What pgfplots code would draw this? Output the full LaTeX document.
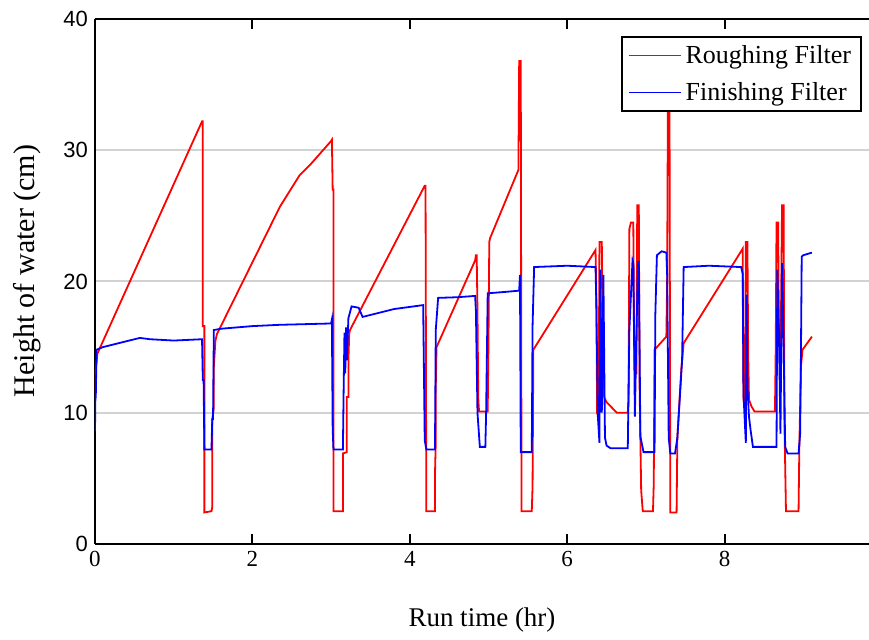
\documentclass[border=0pt]{standalone}
\usepackage{fontspec}
\setmainfont{Liberation Serif}
\setsansfont{Liberation Sans}
\usepackage{pgfplots}
\pgfplotsset{compat=1.18}
\begin{document}
\begin{tikzpicture}
\useasboundingbox (-47.5pt,-48pt) rectangle (387pt,272pt);
\begin{axis}[
  scale only axis,
  width=387pt, height=262.5pt,
  xmin=0, xmax=9.835, ymin=0, ymax=40,
  axis x line*=box, axis y line*=left,
  axis line style={line width=1pt, black},
  xtick={0,2,4,6,8}, ytick={0,10,20,30,40},
  xtick pos=both, ytick pos=left,
  tick align=inside,
  major tick length=5pt,
  xtick style={line width=1pt, black},
  ytick style={draw=none},
  ymajorgrids,
  grid style={line width=1pt, gray!35},
  /pgf/number format/assume math mode=true,
  xticklabel style={font=\fontsize{11.5}{13}\selectfont},
  yticklabel style={font=\sffamily\fontsize{11}{13}\selectfont},
  xlabel={Run time (hr)},
  ylabel={Height of water (cm)},
  xlabel style={font=\fontsize{13.5}{16}\selectfont, at={(axis description cs:0.5,-0.145)}, anchor=center},
  ylabel style={font=\fontsize{15}{18}\selectfont, at={(axis description cs:-0.088,0.52)}, anchor=center},
  legend style={at={(1,1)}, anchor=north east, xshift=-3.5pt, yshift=-8.5pt,
    draw=black, line width=1pt, fill=white, font=\fontsize{13}{15}\selectfont,
    row sep=4pt, inner xsep=3pt, inner ysep=2pt},
  legend cell align=left,
  legend image code/.code={\draw[#1, line width=0.9pt] (0pt,0pt) -- (26pt,0pt);},
]
\addplot[red, line width=0.9pt] coordinates {
(0,11.5) (0.01,13.2) (0.03,14.5) (1.36,32.2) (1.37,32.2) (1.37,16.6) (1.39,16.6) (1.39,2.4) (1.48,2.5) (1.49,2.8) (1.49,9.5) (1.51,10.4) (1.51,13.5) (1.53,15.5) (1.55,16.0)
(2.35,25.7) (2.6,28.1) (2.75,29.0) (3.0,30.7) (3.01,30.8)
(3.02,27.0) (3.03,27.0) (3.03,2.5) (3.15,2.5) (3.15,6.9) (3.2,7) (3.2,11.2) (3.22,11.2) (3.22,14) (3.23,16) (3.24,16.3)
(4.19,27.3) (4.20,27.3) (4.21,2.5) (4.32,2.5) (4.32,5.3) (4.33,7.8) (4.33,12) (4.34,15.0)
(4.83,21.6) (4.84,22.0) (4.85,22.0) (4.86,17.8) (4.87,11.1) (4.88,10.1) (4.99,10.1) (5.0,15.5) (5.01,23.0) (5.02,23.3)
(5.38,28.5) (5.39,36.8) (5.41,36.8) (5.42,2.5) (5.55,2.5) (5.56,4.4) (5.57,14.8)
(6.35,22.3) (6.36,22.4) (6.37,19.1) (6.38,10.2) (6.40,10.5) (6.41,23.0) (6.44,23.0) (6.45,14.5) (6.47,11.2) (6.50,10.8) (6.55,10.5) (6.63,10.0) (6.77,10.0)
(6.78,11.0) (6.79,24.0) (6.81,24.5) (6.84,24.5) (6.85,16) (6.86,13) (6.88,13) (6.89,25.8) (6.91,25.8) (6.92,12) (6.93,8) (6.94,4.1) (6.96,2.5) (7.09,2.5) (7.10,4.6) (7.11,14.8)
(7.26,15.8) (7.27,20) (7.28,34.0) (7.30,34.0) (7.31,2.4) (7.39,2.4) (7.40,8.1) (7.45,13.3) (7.48,15.3)
(8.22,22.4) (8.23,22.5) (8.24,11.0) (8.26,10.5) (8.27,23.0) (8.29,23.0) (8.30,14.5) (8.31,11.0) (8.34,10.5) (8.38,10.1) (8.64,10.1)
(8.65,15) (8.66,24.5) (8.68,24.5) (8.69,16.3) (8.71,13) (8.73,25.8) (8.75,25.8) (8.76,9.4) (8.78,2.5) (8.94,2.5) (8.95,7.5) (8.97,13.5) (8.99,14.8) (9.11,15.8)
};
\addlegendentry{Roughing Filter}
\addplot[blue, line width=0.9pt] coordinates {
(0,8.6) (0.005,11.2) (0.01,11.2) (0.02,14.8) (0.1,15.0) (0.3,15.3) (0.57,15.7) (0.7,15.6) (1.0,15.5) (1.36,15.6) (1.37,12.5) (1.38,12.5) (1.39,7.2) (1.48,7.2) (1.49,9.5) (1.50,9.5) (1.51,16.3) (1.6,16.4) (2.0,16.6) (2.35,16.7) (3.0,16.8) (3.01,17.1)
(3.02,8.8) (3.03,7.2) (3.15,7.2) (3.16,12) (3.17,16.1) (3.18,13) (3.19,16.5) (3.20,14) (3.22,17.2) (3.26,18.1) (3.35,18.0) (3.40,17.3) (3.6,17.6) (3.8,17.9) (4.17,18.2)
(4.19,7.9) (4.21,7.2) (4.32,7.2) (4.33,16.3) (4.36,18.75) (4.6,18.8) (4.83,18.9) (4.84,17.8) (4.86,10.0) (4.89,7.4) (4.96,7.4) (4.97,10.0) (4.99,19.1) (5.2,19.2) (5.39,19.3) (5.40,20.5)
(5.41,7.0) (5.55,7.0) (5.56,16.6) (5.58,21.1) (6.0,21.2) (6.36,21.1) (6.37,18.4) (6.39,9.7) (6.41,7.7) (6.42,20.9) (6.44,10) (6.46,20.5) (6.48,8.1) (6.50,7.5) (6.55,7.3) (6.77,7.3)
(6.79,16.3) (6.83,21.6) (6.84,21.4) (6.86,9.7) (6.88,16) (6.90,21.5) (6.91,21.5) (6.93,8.2) (6.97,7.0) (7.11,7.0) (7.12,17.5) (7.14,22.0) (7.20,22.3) (7.26,22.2)
(7.27,20.6) (7.29,8.1) (7.31,6.9) (7.37,6.9) (7.40,8.1) (7.46,14) (7.48,21.1) (7.8,21.2) (8.21,21.1) (8.23,20.6) (8.24,11.4) (8.27,7.7) (8.28,19.0) (8.29,12) (8.31,9.7) (8.33,8.7) (8.36,7.4) (8.66,7.4)
(8.67,20.9) (8.69,16.3) (8.71,8.4) (8.73,21.4) (8.75,15.2) (8.77,7.4) (8.80,6.9) (8.94,6.9) (8.96,8.4) (8.97,14.3) (8.98,21.9) (9.0,22.0) (9.11,22.2)
};
\addlegendentry{Finishing Filter}
\end{axis}
\end{tikzpicture}
\end{document}
